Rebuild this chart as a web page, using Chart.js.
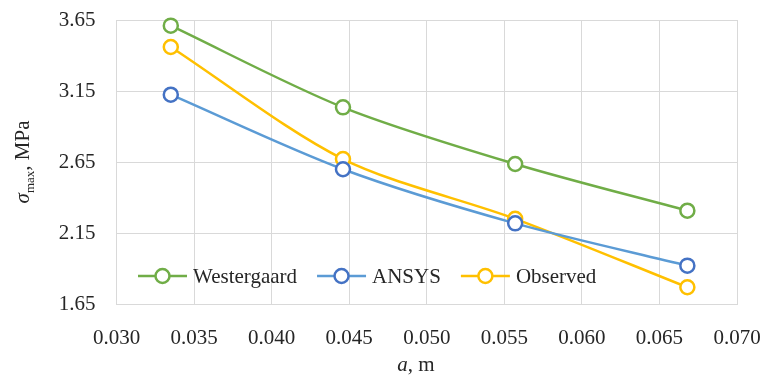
<!DOCTYPE html>
<html>
<head>
<meta charset="utf-8">
<script src="https://cdn.jsdelivr.net/npm/chart.js@4/dist/chart.umd.min.js"></script>
<style>
  html, body { margin: 0; padding: 0; background: #fff; }
  #wrap { width: 764px; height: 375px; position: relative; }
</style>
</head>
<body>
<div id="wrap"><canvas id="chart" width="764" height="375"></canvas></div>
<script>
// crack size a (m) and the three stress series (MPa)
const aValues = [0.0335, 0.0446, 0.0557, 0.0668]
const westergaard = [3.61, 3.035, 2.636, 2.307]
const ansys = [3.124, 2.599, 2.218, 1.92]
const observed = [3.46, 2.671, 2.25, 1.768]

const seriesNames = ['Westergaard', 'ANSYS', 'Observed']
const xTicks = [0.030, 0.035, 0.040, 0.045, 0.050, 0.055, 0.060, 0.065, 0.070]
const yTicks = [1.65, 2.15, 2.65, 3.15, 3.65]

const serif = '"Liberation Serif", "Times New Roman", serif'
const textColor = '#262626'
const gridColor = '#d9d9d9'

function toPoints(values) {
    return aValues.map(function (a, i) { return { x: a, y: values[i] } })
}

function makeSet(label, values, lineColor, markerColor) {
    return {
        label: label,
        data: toPoints(values),
        borderColor: lineColor,
        borderWidth: 2.5,
        pointRadius: 7,
        pointHoverRadius: 7,
        pointBorderWidth: 2.5,
        pointBorderColor: markerColor,
        pointBackgroundColor: '#ffffff',
        tension: 0.3,
        fill: false,
        clip: false
    }
}

// legend drawn inside the plot area, Excel style
const innerLegend = {
    id: 'innerLegend',
    afterDatasetsDraw(chart) {
        const ctx = chart.ctx
        const y = 276
        let x = 138
        ctx.save()
        ctx.font = '21px ' + serif
        ctx.textBaseline = 'middle'
        chart.data.datasets.forEach(function (ds) {
            ctx.strokeStyle = ds.borderColor
            ctx.lineWidth = 2.5
            ctx.beginPath()
            ctx.moveTo(x, y)
            ctx.lineTo(x + 49, y)
            ctx.stroke()
            ctx.beginPath()
            ctx.arc(x + 24.5, y, 7, 0, Math.PI * 2)
            ctx.fillStyle = '#ffffff'
            ctx.fill()
            ctx.strokeStyle = ds.pointBorderColor
            ctx.stroke()
            ctx.fillStyle = textColor
            ctx.fillText(ds.label, x + 55, y + 1)
            x += 55 + ctx.measureText(ds.label).width + 20
        })
        ctx.restore()
    }
}

// axis titles with italic symbols and subscript
const axisTitles = {
    id: 'axisTitles',
    afterDraw(chart) {
        const ctx = chart.ctx
        const area = chart.chartArea
        ctx.save()
        ctx.fillStyle = textColor
        ctx.textBaseline = 'alphabetic'

        // x title: a, m
        const italic = 'italic 21px ' + serif
        const normal = '21px ' + serif
        ctx.font = italic
        const wa = ctx.measureText('a').width
        ctx.font = normal
        const wr = ctx.measureText(', m').width
        let x = 416 - (wa + wr) / 2
        const yb = 371
        ctx.font = italic
        ctx.fillText('a', x, yb)
        ctx.font = normal
        ctx.fillText(', m', x + wa, yb)

        // y title: sigma_max, MPa (rotated)
        ctx.translate(29, (area.top + area.bottom) / 2)
        ctx.rotate(-Math.PI / 2)
        const sub = '13px ' + serif
        ctx.font = italic
        const ws = ctx.measureText('σ').width
        ctx.font = sub
        const wm = ctx.measureText('max').width
        ctx.font = normal
        const wt = ctx.measureText(', MPa').width
        let sx = -(ws + wm + wt) / 2
        ctx.font = italic
        ctx.fillText('σ', sx, 0)
        ctx.font = sub
        ctx.fillText('max', sx + ws, 5)
        ctx.font = normal
        ctx.fillText(', MPa', sx + ws + wm, 0)
        ctx.restore()
    }
}

const ctx = document.getElementById('chart').getContext('2d')
const chart = new Chart(ctx, {
    type: 'line',
    data: {
        datasets: [
            makeSet(seriesNames[0], westergaard, '#70ad47', '#70ad47'),
            makeSet(seriesNames[1], ansys, '#5b9bd5', '#4472c4'),
            makeSet(seriesNames[2], observed, '#ffc000', '#ffc000')
        ]
    },
    options: {
        responsive: false,
        animation: false,
        layout: { padding: { top: 20, right: 27, left: 0, bottom: 0 } },
        plugins: {
            legend: { display: false },
            tooltip: { enabled: false }
        },
        scales: {
            x: {
                type: 'linear',
                min: 0.030,
                max: 0.070,
                afterBuildTicks: function (scale) {
                    scale.ticks = xTicks.map(function (v) { return { value: v } })
                },
                afterFit: function (scale) {
                    scale.height = 71
                    scale.paddingLeft = 0
                    scale.paddingRight = 0
                },
                ticks: {
                    padding: 22,
                    color: textColor,
                    font: { family: serif, size: 21 },
                    callback: function (v) { return Number(v).toFixed(3) }
                },
                grid: { color: gridColor, lineWidth: 1, drawTicks: false },
                border: { color: gridColor }
            },
            y: {
                min: 1.65,
                max: 3.65,
                afterBuildTicks: function (scale) {
                    scale.ticks = yTicks.map(function (v) { return { value: v } })
                },
                afterFit: function (scale) {
                    scale.width = 116.5
                    scale.paddingTop = 0
                    scale.paddingBottom = 0
                },
                ticks: {
                    padding: 21,
                    color: textColor,
                    font: { family: serif, size: 21 },
                    callback: function (v) { return Number(v).toFixed(2) }
                },
                grid: { color: gridColor, lineWidth: 1, drawTicks: false },
                border: { color: gridColor }
            }
        }
    },
    plugins: [innerLegend, axisTitles]
})
</script>
</body>
</html>
